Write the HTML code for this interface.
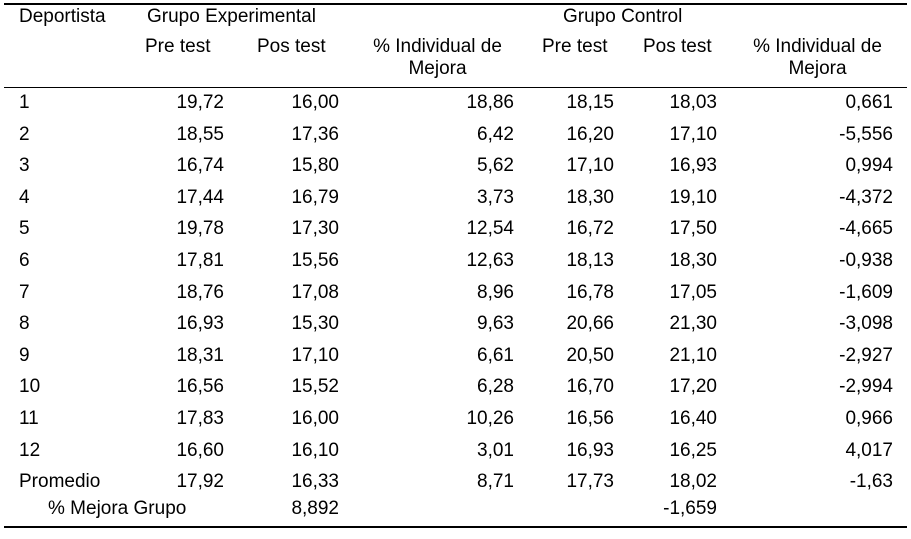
<!DOCTYPE html>
<html><head><meta charset="utf-8"><style>
body{margin:0;background:#fff;}
#tbl{position:relative;width:911px;height:539px;overflow:hidden;font-family:"Liberation Sans",sans-serif;font-size:19px;color:#000;}
.c{position:absolute;line-height:22px;white-space:nowrap;}
.r{text-align:right;}
.hl{position:absolute;left:4px;width:903px;background:#000;}
</style></head><body>
<div id="tbl">
<div class="hl" style="top:3px;height:2px"></div>
<div class="hl" style="top:87px;height:1px"></div>
<div class="hl" style="top:526px;height:2px"></div>
<div class="c" style="left:19px;top:6px">Deportista</div>
<div class="c" style="left:147px;top:6px">Grupo Experimental</div>
<div class="c" style="left:563px;top:6px">Grupo Control</div>
<div class="c" style="left:145px;top:36px">Pre test</div>
<div class="c" style="left:257px;top:36px">Pos test</div>
<div class="c" style="left:369px;top:36px;width:137px;text-align:center">% Individual de<br>Mejora</div>
<div class="c" style="left:542px;top:36px">Pre test</div>
<div class="c" style="left:643px;top:36px">Pos test</div>
<div class="c" style="left:749px;top:36px;width:137px;text-align:center">% Individual de<br>Mejora</div>
</div>
<script>
const labels=["1","2","3","4","5","6","7","8","9","10","11","12","Promedio"];
const expPre=["19,72","18,55","16,74","17,44","19,78","17,81","18,76","16,93","18,31","16,56","17,83","16,60","17,92"];
const expPos=["16,00","17,36","15,80","16,79","17,30","15,56","17,08","15,30","17,10","15,52","16,00","16,10","16,33"];
const expMej=["18,86","6,42","5,62","3,73","12,54","12,63","8,96","9,63","6,61","6,28","10,26","3,01","8,71"];
const ctrlPre=["18,15","16,20","17,10","18,30","16,72","18,13","16,78","20,66","20,50","16,70","16,56","16,93","17,73"];
const ctrlPos=["18,03","17,10","16,93","19,10","17,50","18,30","17,05","21,30","21,10","17,20","16,40","16,25","18,02"];
const ctrlMej=["0,661","-5,556","0,994","-4,372","-4,665","-0,938","-1,609","-3,098","-2,927","-2,994","0,966","4,017","-1,63"];
const tbl=document.getElementById('tbl');
const cols=[[expPre,224,'exp-pre'],[expPos,339,'exp-pos'],[expMej,514,'exp-mejora'],[ctrlPre,614,'ctrl-pre'],[ctrlPos,717,'ctrl-pos'],[ctrlMej,893,'ctrl-mejora']];
function cell(txt,top,left,right){
  const d=document.createElement('div');
  d.className='c'+(right!=null?' r':'');
  d.style.top=top+'px';
  if(right!=null){d.style.right=(911-right)+'px';}else{d.style.left=left+'px';}
  d.textContent=txt;
  tbl.appendChild(d);
  return d;
}
labels.forEach((lab,i)=>{
  const top=92+i*31.6;
  const a=cell(lab,top,19,null);
  
  
  cols.forEach(col=>{
    const d=cell(col[0][i],top,null,col[1]);
    
    
  });
});
const t=92+13*31.2;
const g=cell('% Mejora Grupo',t,48,null);


const g1=cell('8,892',t,null,339);


const g2=cell('-1,659',t,null,717);


</script>
</body></html>
